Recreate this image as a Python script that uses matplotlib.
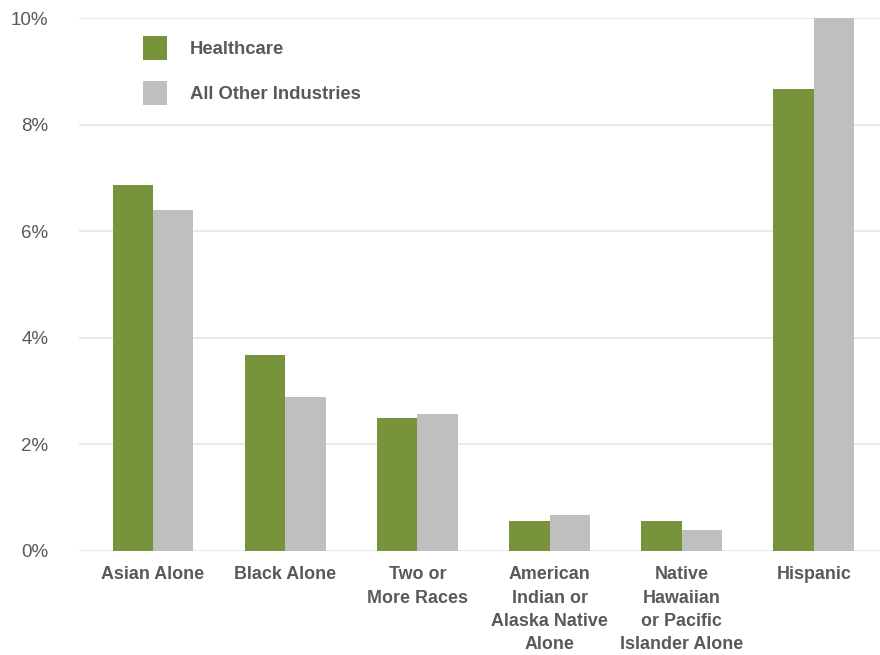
#!/usr/bin/env python3
"""
Share of workers by race / ethnicity: healthcare vs all other industries
"""

import matplotlib
matplotlib.use('Agg')
import matplotlib.pyplot as plt
import numpy as np

# data (percent)
categories = [
    'Asian Alone',
    'Black Alone',
    'Two or\nMore Races',
    'American\nIndian or\nAlaska Native\nAlone',
    'Native\nHawaiian\nor Pacific\nIslander Alone',
    'Hispanic',
]
healthcare = [6.87, 3.68, 2.50, 0.56, 0.56, 8.67]
other_industries = [6.40, 2.89, 2.57, 0.68, 0.39, 10.0]
y_ticks = [0, 2, 4, 6, 8, 10]

GREEN = '#77933c'
GRAY = '#bfbfbf'
TEXT = '#595959'

plt.rcParams['font.family'] = ['Liberation Sans', 'DejaVu Sans']

fig = plt.figure(figsize=(8.8, 6.55), dpi=100)
ax = fig.add_axes([0.0898, 0.1588, 0.9102, 0.8137])

x = np.arange(len(categories))
width = 0.306
ax.bar(x - width / 2, healthcare, width, color=GREEN, label='Healthcare', zorder=2)
ax.bar(x + width / 2, other_industries, width, color=GRAY, label='All Other Industries', zorder=2)

ax.set_xlim(-0.56, 5.5)
ax.set_ylim(0, 10)
ax.set_yticks(y_ticks)
ax.set_yticklabels([f'{t}%' for t in y_ticks], fontsize=13.5, color=TEXT)
ax.set_xticks(x)
ax.set_xticklabels(categories, fontsize=12.9, color=TEXT, fontweight='bold',
                   linespacing=1.48, va='top')
ax.tick_params(axis='both', length=0)
ax.tick_params(axis='y', pad=22)
ax.tick_params(axis='x', pad=11)

ax.grid(axis='y', color='#e6e6e6', linewidth=1.2, zorder=0)
ax.set_axisbelow(True)
for s in ax.spines.values():
    s.set_visible(False)

leg = ax.legend(loc='upper left', bbox_to_anchor=(0.0635, 0.99), frameon=False,
                prop={'weight': 'bold', 'size': 13.3},
                handlelength=1.3, handleheight=1.62,
                labelspacing=1.12, handletextpad=1.25, borderaxespad=0.3)
for t in leg.get_texts():
    t.set_color(TEXT)

plt.savefig('out.png', dpi=100)
plt.close()
